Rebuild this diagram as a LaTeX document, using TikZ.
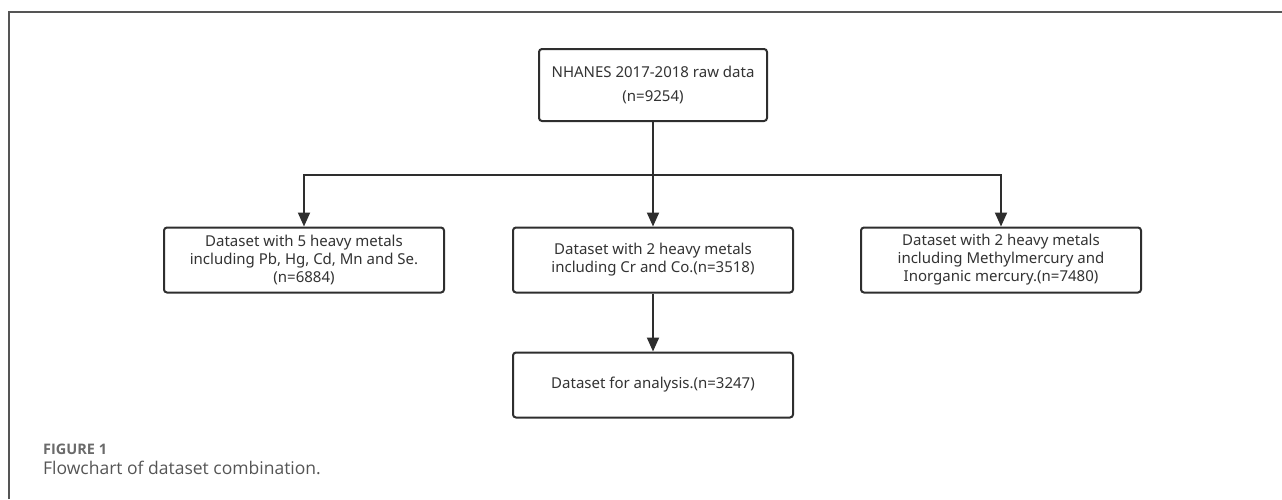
\documentclass[tikz,border=0pt]{standalone}
\usepackage{fontspec}
\setmainfont{Noto Sans}
\newfontfamily\capfont{Open Sans}
\usetikzlibrary{arrows.meta}
\definecolor{boxline}{HTML}{2E2E2E}
\definecolor{txt}{HTML}{333333}
\definecolor{frame}{HTML}{555555}
\definecolor{capgray}{HTML}{6A6A6A}
\tikzset{
  flowbox/.style={draw=boxline, line width=2pt, rounded corners=3pt, fill=white,
    minimum width=280pt, minimum height=65pt, align=center, inner sep=0pt,
    text=txt, font=\fontsize{15pt}{18pt}\selectfont},
  link/.style={draw=boxline, line width=2pt},
  arr/.style={link, -{Triangle[length=14pt,width=12pt]}}
}
\begin{document}
\begin{tikzpicture}[x=1pt,y=-1pt]
\useasboundingbox (0,0) rectangle (1282,499);
\draw[frame, line width=2pt] (9,499) -- (9,12) -- (1282,12);
\node[flowbox, minimum width=228pt, minimum height=72pt, font=\fontsize{15pt}{24pt}\selectfont] (top) at (653,85) {NHANES 2017-2018 raw data\\(n=9254)};
\node[flowbox] (left) at (304,260) {Dataset with 5 heavy metals\\including Pb, Hg, Cd, Mn and Se.\\(n=6884)};
\node[flowbox] (mid) at (653,260) {Dataset with 2 heavy metals\\including Cr and Co.(n=3518)};
\node[flowbox] (right) at (1001,260) {Dataset with 2 heavy metals\\including Methylmercury and\\Inorganic mercury.(n=7480)};
\node[flowbox] (bot) at (653,385) {Dataset for analysis.(n=3247)};
\coordinate (j) at (653,175);
\draw[arr] (top) -- (mid);
\draw[arr] (j) -| (left.north);
\draw[arr] (j) -| (right.north);
\draw[arr] (mid) -- (bot);
\node[anchor=base west, inner sep=0pt, text=capgray, font=\capfont\bfseries\fontsize{14.5pt}{17pt}\selectfont] (fig) at (43,454) {FIGURE 1};
\node[anchor=base west, inner sep=0pt, text=frame, font=\capfont\fontsize{17.5pt}{21pt}\selectfont] (cap) at (43,474) {Flowchart of dataset combination.};
\end{tikzpicture}
\end{document}
